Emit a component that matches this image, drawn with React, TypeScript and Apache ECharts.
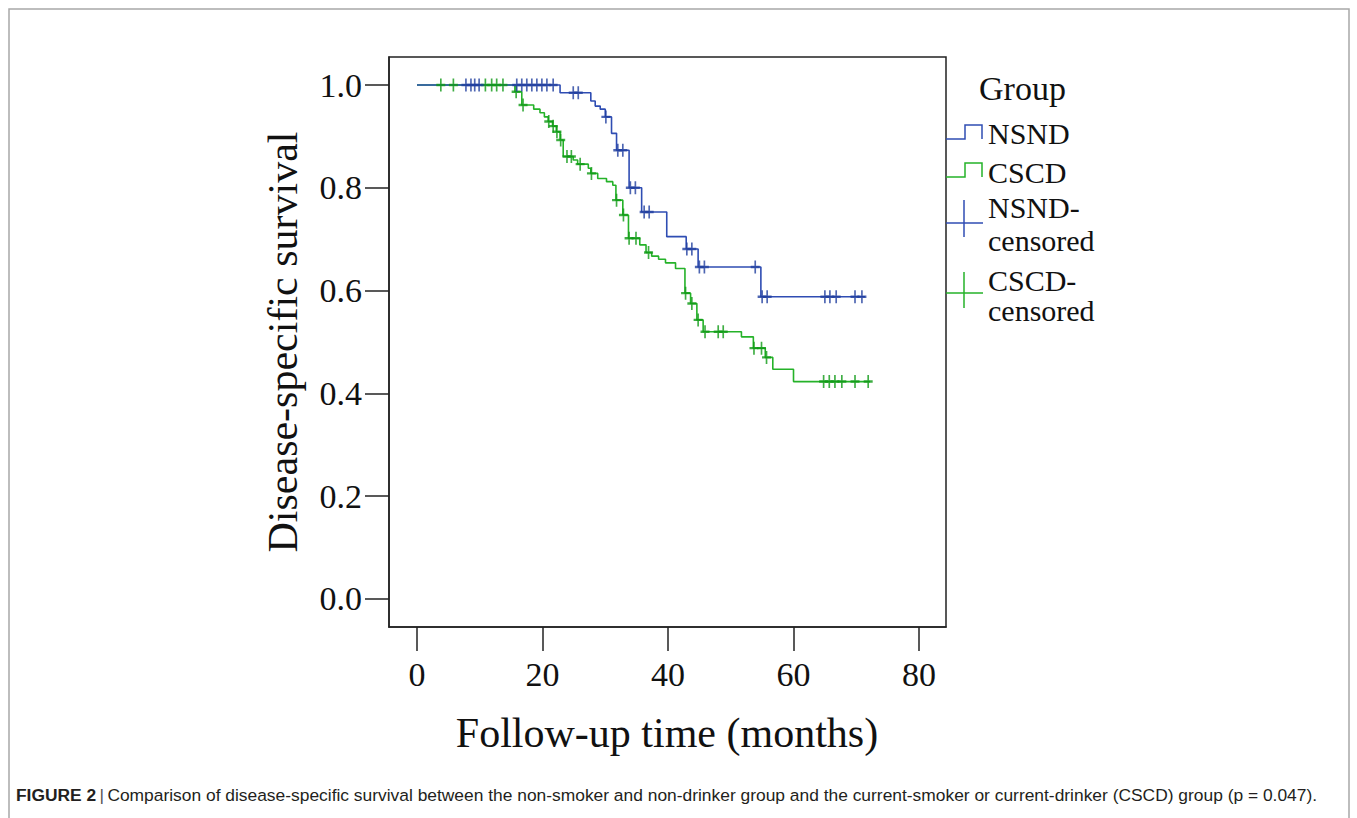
import React, { useEffect, useRef } from "react";
import * as echarts from "echarts";

// Kaplan-Meier step data (time in months, survival after the event)
const nsndTimes = [0, 22.8, 27.7, 28.4, 29.2, 30.0, 31.0, 31.8, 33.8, 35.8, 39.8, 42.9, 44.8, 54.8, 71.4];
const nsndSurvival = [1.0, 0.985, 0.969, 0.959, 0.953, 0.938, 0.906, 0.873, 0.8, 0.753, 0.705, 0.681, 0.646, 0.588, 0.588];
const nsndCensored = [7.8, 8.6, 9.2, 9.9, 15.9, 16.7, 17.5, 18.3, 19.1, 19.9, 20.7, 21.7, 24.9, 25.7, 30.1, 32.0, 32.8, 34.0, 34.8, 36.2, 37.0, 43.0, 43.8, 45.0, 45.8, 53.9, 55.0, 55.8, 65.0, 65.8, 66.8, 69.8, 70.9];

const cscdTimes = [0, 15.6, 16.7, 18.6, 19.6, 20.3, 20.9, 21.6, 22.2, 22.8, 23.3, 24.9, 25.6, 27.3, 27.7, 28.8, 30.2, 31.2, 31.7, 32.8, 33.7, 35.5, 36.5, 37.4, 38.5, 39.6, 41.2, 42.7, 43.6, 44.6, 45.6, 51.7, 53.6, 55.5, 56.7, 60.0, 72.2];
const cscdSurvival = [1.0, 0.987, 0.961, 0.953, 0.946, 0.938, 0.929, 0.92, 0.909, 0.893, 0.861, 0.854, 0.846, 0.838, 0.828, 0.818, 0.812, 0.805, 0.776, 0.747, 0.702, 0.689, 0.674, 0.667, 0.661, 0.654, 0.643, 0.595, 0.575, 0.543, 0.52, 0.51, 0.488, 0.47, 0.447, 0.423, 0.423];
const cscdCensored = [3.8, 5.8, 10.9, 11.9, 12.7, 13.7, 15.8, 16.9, 21.0, 21.7, 22.3, 22.9, 23.9, 24.6, 26.0, 27.8, 31.8, 32.9, 33.8, 34.9, 36.9, 42.8, 43.8, 44.8, 45.9, 48.0, 48.8, 53.7, 54.9, 55.7, 64.8, 65.7, 66.6, 67.7, 69.8, 71.9];

const xTicks = [0, 20, 40, 60, 80];
const yTicks = [0, 0.2, 0.4, 0.6, 0.8, 1.0];

const groupNames = ["NSND", "CSCD"];
const xTitle = "Follow-up time (months)";
const yTitle = "Disease-specific survival";
const captionBold = "FIGURE 2";
const captionText =
  "Comparison of disease-specific survival between the non-smoker and non-drinker group and the current-smoker or current-drinker (CSCD) group (p = 0.047).";

const BLUE = "#2f4db3";
const BLUE_DARK = "#213e9f";
const GREEN = "#25b229";
const GREEN_DARK = "#0f9a15";
const SERIF = "'Liberation Serif', 'Times New Roman', serif";
const SANS = "'Liberation Sans', Arial, sans-serif";

function survAt(times: number[], surv: number[], t: number) {
  let s = surv[0];
  for (let i = 0; i < times.length; i++) {
    if (times[i] <= t) s = surv[i];
  }
  return s;
}

const plusSymbol = "path://M5 0 L5 14 M0 7 L10 7";

export default function App() {
  const ref = useRef<HTMLDivElement>(null);
  useEffect(() => {
    const chart = echarts.init(ref.current!, null, { renderer: "svg" });
    const nsndLine = nsndTimes.map((t, i) => [t, nsndSurvival[i]]);
    const cscdLine = cscdTimes.map((t, i) => [t, cscdSurvival[i]]);
    const nsndMarks = nsndCensored.map((t) => [t, survAt(nsndTimes, nsndSurvival, t)]);
    const cscdMarks = cscdCensored.map((t) => [t, survAt(cscdTimes, cscdSurvival, t)]);

    const legendText = (text: string, x: number, y: number, size = 30) => ({
      type: "text",
      x,
      y,
      style: { text, fontFamily: SERIF, fontSize: size, fill: "#111", textVerticalAlign: "middle" },
    });

    chart.setOption({
      animation: false,
      backgroundColor: "#fff",
      grid: {
        left: 389,
        top: 57,
        right: 1357 - 946,
        bottom: 818 - 627,
        show: true,
        borderColor: "#222",
        borderWidth: 1.5,
        backgroundColor: "transparent",
      },
      xAxis: {
        type: "value",
        min: -4.46,
        max: 84.3,
        splitLine: { show: false },
        axisLine: { show: true, onZero: false, lineStyle: { color: "#222", width: 1.5 } },
        axisTick: { show: true, length: 24, customValues: xTicks, lineStyle: { color: "#222", width: 1.5 } },
        axisLabel: {
          customValues: xTicks,
          margin: 30,
          fontFamily: SERIF,
          fontSize: 34,
          color: "#111",
        },
      },
      yAxis: {
        type: "value",
        min: -0.0545,
        max: 1.0545,
        splitLine: { show: false },
        axisLine: { show: true, onZero: false, lineStyle: { color: "#222", width: 1.5 } },
        axisTick: { show: true, length: 24, customValues: yTicks, lineStyle: { color: "#222", width: 1.5 } },
        axisLabel: {
          customValues: yTicks,
          margin: 27,
          fontFamily: SERIF,
          fontSize: 34,
          color: "#111",
          formatter: (v: number) => v.toFixed(1),
        },
      },
      series: [
        {
          name: groupNames[0],
          type: "line",
          step: "end",
          data: nsndLine,
          symbol: "none",
          lineStyle: { color: BLUE, width: 1.6 },
          z: 3,
        },
        {
          name: groupNames[1],
          type: "line",
          step: "end",
          data: cscdLine,
          symbol: "none",
          lineStyle: { color: GREEN, width: 1.6 },
          z: 2,
        },
        {
          name: groupNames[0] + "-censored",
          type: "scatter",
          data: nsndMarks,
          symbol: plusSymbol,
          symbolSize: [9, 13],
          itemStyle: { color: "none", borderColor: BLUE_DARK, borderWidth: 2 },
          z: 5,
        },
        {
          name: groupNames[1] + "-censored",
          type: "scatter",
          data: cscdMarks,
          symbol: plusSymbol,
          symbolSize: [9, 13],
          itemStyle: { color: "none", borderColor: GREEN_DARK, borderWidth: 2 },
          z: 4,
        },
      ],
      graphic: [
        {
          type: "polyline",
          shape: { points: [[9, 830], [9, 9], [1349, 9], [1349, 830]] },
          style: { stroke: "#a8a8a8", lineWidth: 1.5, fill: "none" },
          silent: true,
        },
        {
          type: "text",
          x: 283,
          y: 342,
          rotation: Math.PI / 2,
          style: {
            text: yTitle,
            fontFamily: SERIF,
            fontSize: 42,
            fill: "#111",
            align: "center",
            verticalAlign: "middle",
          },
        },
        {
          type: "text",
          x: 667,
          y: 733,
          style: {
            text: xTitle,
            fontFamily: SERIF,
            fontSize: 42,
            fill: "#111",
            align: "center",
            verticalAlign: "middle",
          },
        },
        legendText("Group", 979, 88, 34),
        {
          type: "polyline",
          shape: { points: [[946, 139], [965, 139], [965, 125], [982, 125], [982, 139]] },
          style: { stroke: BLUE, lineWidth: 1.5, fill: "none" },
        },
        legendText(groupNames[0], 988, 133),
        {
          type: "polyline",
          shape: { points: [[946, 177], [965, 177], [965, 163], [982, 163], [982, 177]] },
          style: { stroke: GREEN, lineWidth: 1.5, fill: "none" },
        },
        legendText(groupNames[1], 988, 172),
        { type: "line", shape: { x1: 964, y1: 200, x2: 964, y2: 237 }, style: { stroke: BLUE, lineWidth: 1.5 } },
        { type: "line", shape: { x1: 946, y1: 223, x2: 983, y2: 223 }, style: { stroke: BLUE, lineWidth: 1.5 } },
        legendText(groupNames[0] + "-", 988, 207),
        legendText("censored", 988, 240),
        { type: "line", shape: { x1: 964, y1: 272, x2: 964, y2: 308 }, style: { stroke: GREEN, lineWidth: 1.5 } },
        { type: "line", shape: { x1: 946, y1: 293, x2: 983, y2: 293 }, style: { stroke: GREEN, lineWidth: 1.5 } },
        legendText(groupNames[1] + "-", 988, 280),
        legendText("censored", 988, 310),
        {
          type: "text",
          x: 16,
          y: 795,
          style: {
            text: `{b|${captionBold}} {s||} {n|${captionText}}`,
            verticalAlign: "middle",
            rich: {
              b: { fontFamily: SANS, fontSize: 17.4, fontWeight: "bold", fill: "#231f20" },
              s: { fontFamily: SANS, fontSize: 17.4, fill: "#555" },
              n: { fontFamily: SANS, fontSize: 17.4, fill: "#231f20" },
            },
          },
        },
      ],
    });
    return () => chart.dispose();
  }, []);
  return (
    <div
      ref={ref}
      style={{ position: "fixed", left: 0, top: 0, width: 1357, height: 818, background: "#fff" }}
    />
  );
}
